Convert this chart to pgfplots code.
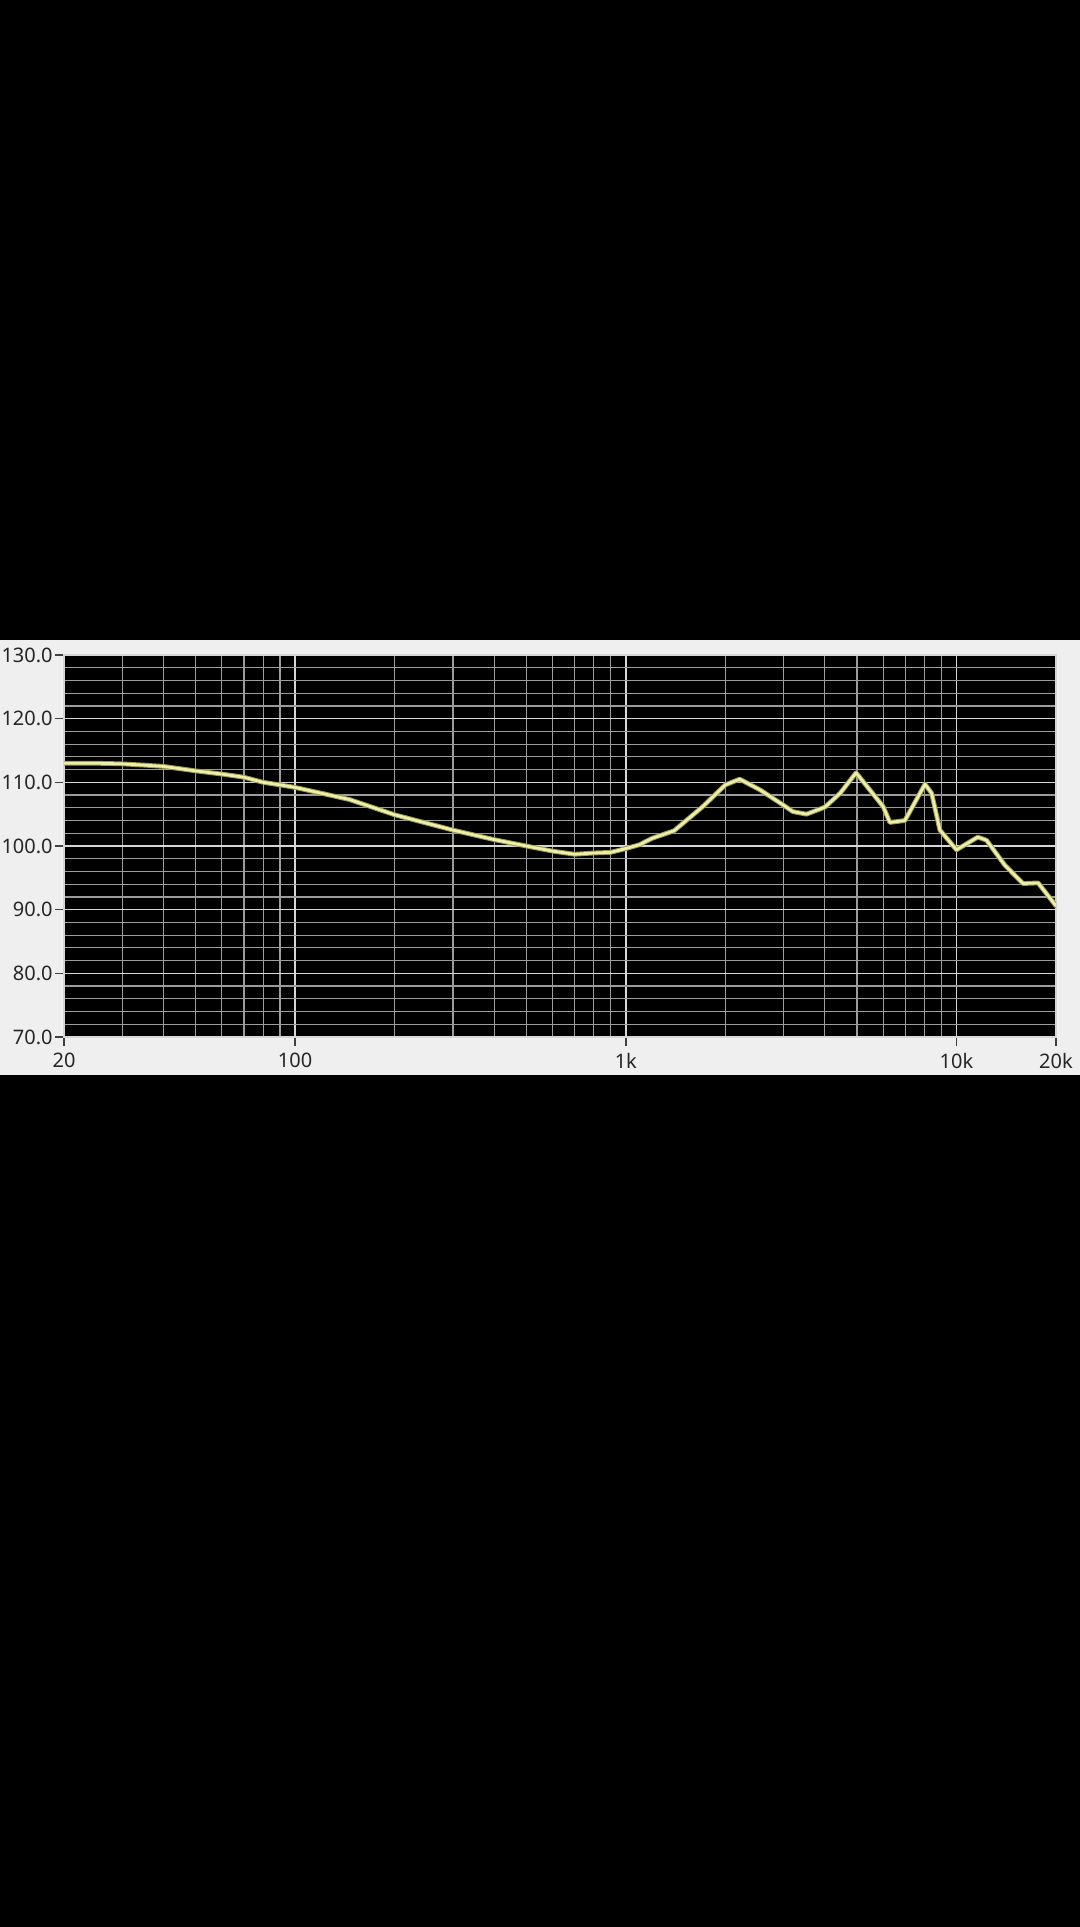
\documentclass[border=0pt]{standalone}
\usepackage{fontspec}
\setmainfont{Noto Sans}
\usepackage{pgfplots}
\pgfplotsset{compat=1.18}

\definecolor{panel}{HTML}{EFEFEF}
\definecolor{trace}{HTML}{EDEDAE}
\definecolor{traceedge}{HTML}{9A9A45}
\definecolor{gridmin}{HTML}{9C9C9C}
\definecolor{gridmaj}{HTML}{D6D6D6}

% frequency response (Hz, dB)
\pgfplotstableread{
f      db
20     113.0
25     113.0
30     112.9
35     112.7
40     112.5
50     111.8
60     111.3
70     110.8
80     110.0
90     109.6
100    109.2
146    107.3
200    104.9
300    102.5
400    101.0
500    100.0
600    99.2
700    98.7
800    98.9
900    99.0
1000   99.6
1100   100.2
1200   101.2
1400   102.4
1710   106.2
2000   109.6
2210   110.5
2550   108.8
3000   106.4
3200   105.4
3520   105.0
4000   106.1
4450   108.3
4970   111.5
6000   106.2
6290   103.7
6980   104.0
8030   109.7
8410   108.3
8910   102.5
10000  99.4
11600  101.4
12330  100.9
14000  97.0
15900  94.1
17660  94.2
20000  90.6
}\response

\begin{document}
\begin{tikzpicture}
  % 1 px of the screenshot = 0.5pt
  \useasboundingbox (0,0) rectangle (540pt,963.5pt);
  \fill[black] (0,0) rectangle (540pt,963.5pt);
  \fill[panel] (0,426pt) rectangle (540pt,643.5pt);

  \begin{axis}[
    at={(32pt,445pt)}, anchor=south west,
    scale only axis,
    width=496pt, height=191pt,
    xmode=log,
    xmin=20, xmax=20000,
    ymin=70, ymax=130,
    axis background/.style={fill=black},
    axis line style={draw=gridmaj, line width=0.6pt},
    xtick={20,100,1000,10000,20000},
    xticklabels={20,100,1k,10k,20k},
    minor xtick={30,40,50,60,70,80,90,200,300,400,500,600,700,800,900,
                 2000,3000,4000,5000,6000,7000,8000,9000},
    ytick={70,80,...,130},
    minor ytick={72,74,...,128},
    grid=both,
    major grid style={draw=gridmaj, line width=0.8pt},
    minor grid style={draw=gridmin, line width=0.6pt},
    xtick pos=bottom, ytick pos=left,
    tick align=outside,
    major tick length=4.5pt, minor tick length=0pt,
    every tick/.style={draw=black!75, line width=0.7pt},
    tick label style={font=\fontsize{10}{12}\selectfont, text=black!85},
    yticklabel style={inner xsep=1pt,
                      /pgf/number format/.cd, fixed, fixed zerofill, precision=1,
                      assume math mode=true},
    log ticks with fixed point,
  ]
    \addplot[draw=traceedge, line width=2.4pt, line join=round, line cap=round]
      table[x=f, y=db] {\response};
    \addplot[draw=trace, line width=1.4pt, line join=round, line cap=round]
      table[x=f, y=db] {\response};
  \end{axis}
\end{tikzpicture}
\end{document}
